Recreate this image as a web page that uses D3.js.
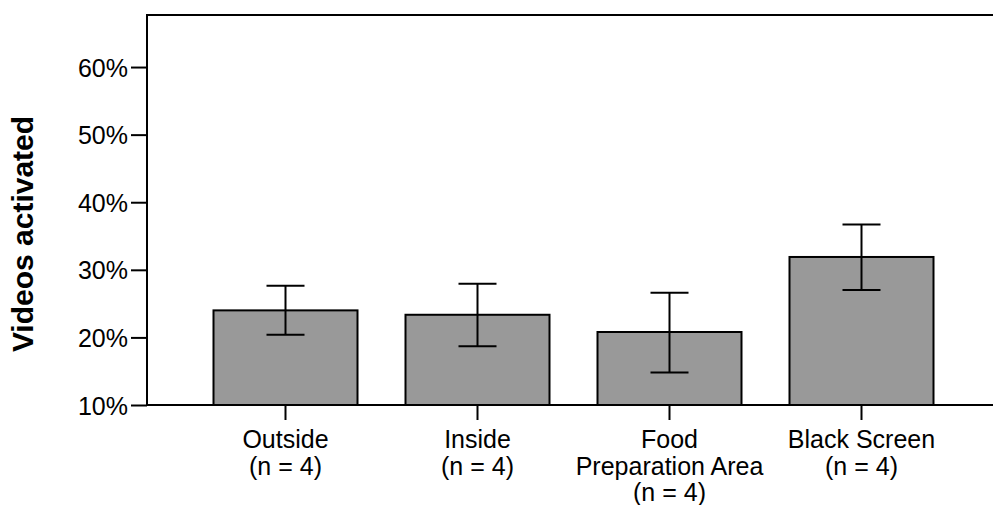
<!DOCTYPE html>
<html>
<head>
<meta charset="utf-8">
<script src="https://cdn.jsdelivr.net/npm/d3@7/dist/d3.min.js"></script>
<style>
  html, body { margin: 0; padding: 0; background: #fff; }
  svg { display: block; }
  text { font-family: "Liberation Sans", Arial, Helvetica, sans-serif; fill: #000; }
</style>
</head>
<body>
<svg id="chart" width="993" height="505"></svg>
<script>
// Share of videos activated per location (percent), with error bar limits
const categories = [
  ["Outside", "(n = 4)"],
  ["Inside", "(n = 4)"],
  ["Food", "Preparation Area", "(n = 4)"],
  ["Black Screen", "(n = 4)"]
];
const means = [24.0, 23.35, 20.8, 31.9];
const errLow = [20.4, 18.7, 14.8, 27.0];
const errHigh = [27.65, 27.95, 26.6, 36.7];
const yTicks = [10, 20, 30, 40, 50, 60];

const svg = d3.select("#chart");
const plotLeft = 147, plotRight = 993, plotTop = 15, plotBottom = 405;

const x = d3.scaleBand()
  .domain(d3.range(categories.length))
  .range([189.5, 957.5])
  .paddingInner(0.25)
  .paddingOuter(0.125);

const y = d3.scaleLinear().domain([10, 67.7]).range([plotBottom, plotTop]);

// Bars
svg.append("g").selectAll("rect")
  .data(means)
  .join("rect")
  .attr("x", (d, i) => x(i))
  .attr("y", d => y(d))
  .attr("width", x.bandwidth())
  .attr("height", d => y(10) - y(d))
  .attr("fill", "#999999")
  .attr("stroke", "#000")
  .attr("stroke-width", 2);

// Error bars
const capHalf = 19;
const eb = svg.append("g").attr("stroke", "#000").attr("stroke-width", 2);
means.forEach((m, i) => {
  const cx = x(i) + x.bandwidth() / 2;
  eb.append("line").attr("x1", cx).attr("x2", cx).attr("y1", y(errLow[i])).attr("y2", y(errHigh[i]));
  eb.append("line").attr("x1", cx - capHalf).attr("x2", cx + capHalf).attr("y1", y(errHigh[i])).attr("y2", y(errHigh[i]));
  eb.append("line").attr("x1", cx - capHalf).attr("x2", cx + capHalf).attr("y1", y(errLow[i])).attr("y2", y(errLow[i]));
});

// Y axis
const yAxis = svg.append("g")
  .attr("transform", `translate(${plotLeft},0)`)
  .call(d3.axisLeft(y).tickValues(yTicks).tickSize(16).tickPadding(3).tickFormat(d => d + "%"));
yAxis.select(".domain").remove();
yAxis.selectAll(".tick line").attr("stroke", "#000").attr("stroke-width", 2);
yAxis.selectAll(".tick text")
  .attr("font-size", 25)
  .attr("font-family", "Liberation Sans, Arial, sans-serif")
  .attr("dy", "0.36em");

// Frame lines: left, top and baseline
const frame = svg.append("g").attr("stroke", "#000").attr("stroke-width", 2);
frame.append("line").attr("x1", plotLeft).attr("x2", plotLeft).attr("y1", plotTop - 1).attr("y2", plotBottom + 1);
frame.append("line").attr("x1", plotLeft - 1).attr("x2", plotRight).attr("y1", plotTop).attr("y2", plotTop);
frame.append("line").attr("x1", plotLeft - 1).attr("x2", plotRight).attr("y1", plotBottom).attr("y2", plotBottom);

// X axis ticks and multi-line category labels
const xg = svg.append("g");
categories.forEach((lines, i) => {
  const cx = x(i) + x.bandwidth() / 2;
  xg.append("line")
    .attr("x1", cx).attr("x2", cx)
    .attr("y1", plotBottom).attr("y2", plotBottom + 15)
    .attr("stroke", "#000").attr("stroke-width", 2);
  const t = xg.append("text")
    .attr("x", cx)
    .attr("y", 448)
    .attr("text-anchor", "middle")
    .attr("font-size", 25);
  lines.forEach((s, j) => {
    t.append("tspan").attr("x", cx).attr("dy", j === 0 ? 0 : 26.5).text(s);
  });
});

// Y axis title
svg.append("text")
  .attr("transform", "translate(33,234) rotate(-90)")
  .attr("text-anchor", "middle")
  .attr("font-size", 30)
  .attr("font-weight", "bold")
  .text("Videos activated");
</script>
</body>
</html>
